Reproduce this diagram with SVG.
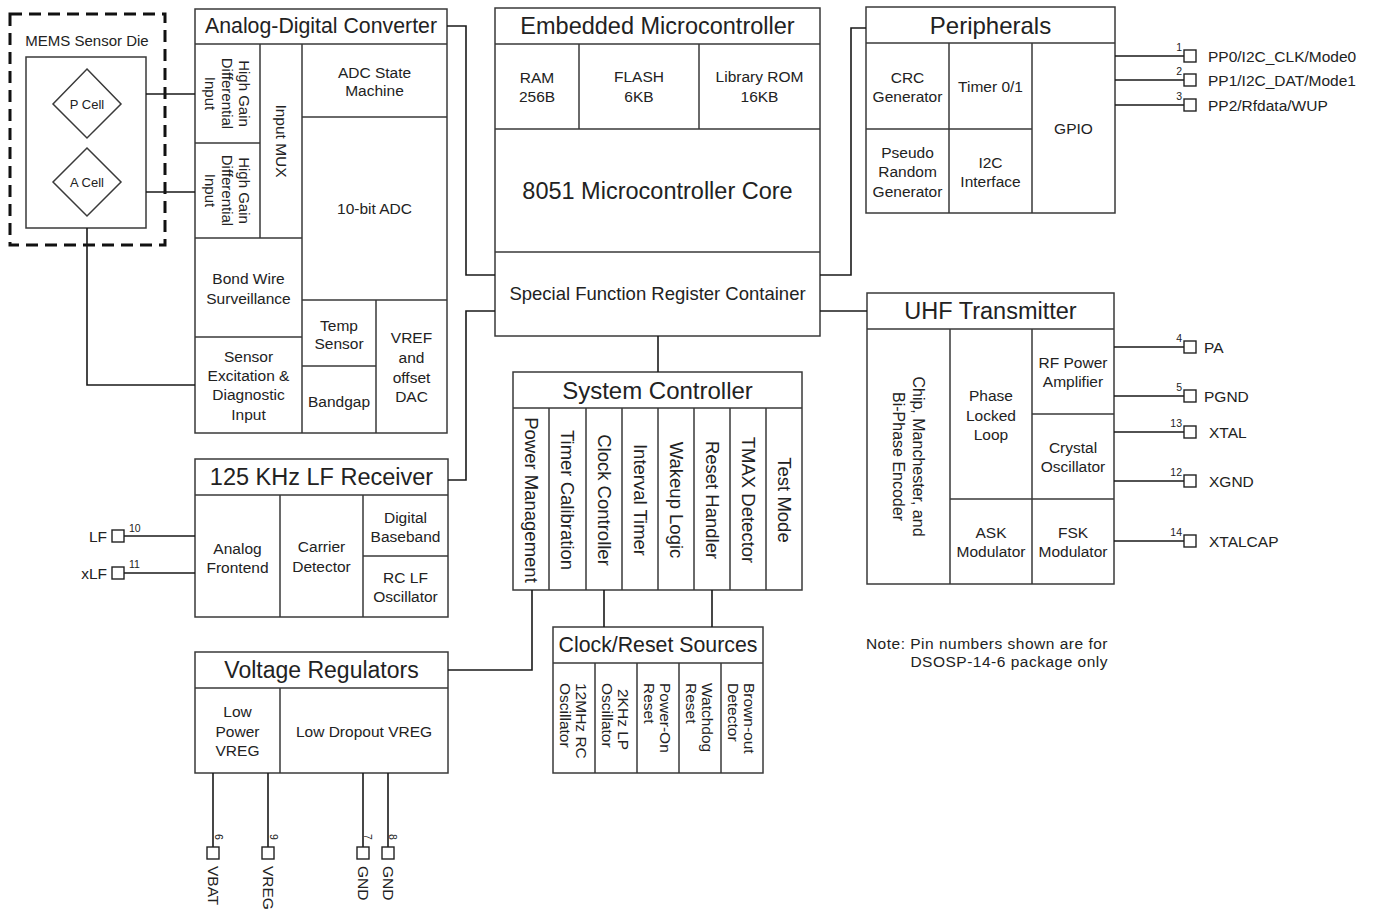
<svg xmlns="http://www.w3.org/2000/svg" width="1384" height="915" viewBox="0 0 1384 915">
<style>
text{font-family:"Liberation Sans",Arial,sans-serif;fill:#222}
.b{fill:#fff;stroke:#3a3a3a;stroke-width:1.5}
.l{fill:none;stroke:#3a3a3a;stroke-width:1.5}
.c{fill:none;stroke:#1a1a1a;stroke-width:1.6}
.h{font-size:23.5px;text-anchor:middle;dominant-baseline:central}
.t{font-size:15.5px;text-anchor:middle;dominant-baseline:central}
.s{font-size:15.5px;text-anchor:start;dominant-baseline:central}
.v{font-size:18.5px;text-anchor:middle;dominant-baseline:central}
.p{font-size:15.5px;dominant-baseline:central}
.n{font-size:10.5px}
.nv{font-size:10.5px;text-anchor:middle;dominant-baseline:central}
.pin{fill:#fff;stroke:#222;stroke-width:1.4}
</style>
<rect width="1384" height="915" fill="#fff"/>

<g id="mems">
<rect x="10" y="14" width="155" height="231" fill="none" stroke="#111" stroke-width="3" stroke-dasharray="12 7"/>
<text x="87" y="40" class="t" style="font-size:15px">MEMS Sensor Die</text>
<rect x="26" y="57" width="120" height="171" class="b"/>
<polygon points="87,69 121,104 87,138 53,104" class="b"/>
<text x="87" y="104" class="t" style="font-size:13px">P Cell</text>
<polygon points="87,148 121,182 87,216 53,182" class="b"/>
<text x="87" y="182" class="t" style="font-size:13px">A Cell</text>
</g>

<g id="adc">
<rect x="195" y="9" width="252" height="424" class="b"/>
<path class="l" d="M195 44H447M260 44V238M195 143H260M302 44V433M195 238H302M302 117H447M302 300H447M195 337H302M376 300V433M302 366H376"/>
<text x="321" y="26" class="h" style="font-size:21.3px">Analog-Digital Converter</text>
<g transform="translate(227.5,93.5) rotate(90)"><text class="t" style="font-size:15px"><tspan x="0" y="-17">High Gain</tspan><tspan x="0" y="0">Differential</tspan><tspan x="0" y="17">Input</tspan></text></g>
<g transform="translate(227.5,190.5) rotate(90)"><text class="t" style="font-size:15px"><tspan x="0" y="-17">High Gain</tspan><tspan x="0" y="0">Differential</tspan><tspan x="0" y="17">Input</tspan></text></g>
<g transform="translate(281,141) rotate(90)"><text class="t" x="0" y="0">Input MUX</text></g>
<text class="t"><tspan x="374.5" y="72">ADC State</tspan><tspan x="374.5" y="90">Machine</tspan></text>
<text class="t" x="374.5" y="208">10-bit ADC</text>
<text class="t"><tspan x="248.5" y="278">Bond Wire</tspan><tspan x="248.5" y="298">Surveillance</tspan></text>
<text class="t"><tspan x="248.5" y="356">Sensor</tspan><tspan x="248.5" y="375">Excitation &amp;</tspan><tspan x="248.5" y="394">Diagnostic</tspan><tspan x="248.5" y="414">Input</tspan></text>
<text class="t"><tspan x="339" y="325">Temp</tspan><tspan x="339" y="343">Sensor</tspan></text>
<text class="t" x="339" y="401">Bandgap</text>
<text class="t"><tspan x="411.5" y="337">VREF</tspan><tspan x="411.5" y="357">and</tspan><tspan x="411.5" y="377">offset</tspan><tspan x="411.5" y="396">DAC</tspan></text>
</g>

<g id="mcu">
<rect x="495" y="8" width="325" height="328" class="b"/>
<path class="l" d="M495 44H820M495 129H820M495 252H820M579 44V129M699 44V129"/>
<text x="657.5" y="26" class="h">Embedded Microcontroller</text>
<text class="t"><tspan x="537" y="77">RAM</tspan><tspan x="537" y="96">256B</tspan></text>
<text class="t"><tspan x="639" y="76">FLASH</tspan><tspan x="639" y="96">6KB</tspan></text>
<text class="t"><tspan x="759.5" y="76">Library ROM</tspan><tspan x="759.5" y="96">16KB</tspan></text>
<text x="657.5" y="191" class="h">8051 Microcontroller Core</text>
<text x="657.5" y="293" class="t" style="font-size:18.5px">Special Function Register Container</text>
</g>

<g id="peripherals">
<rect x="866" y="7" width="249" height="206" class="b"/>
<path class="l" d="M866 43H1115M949 43V213M1032 43V213M866 129H1032"/>
<text x="990.5" y="25" class="h" style="font-size:24px">Peripherals</text>
<text class="t"><tspan x="907.5" y="77">CRC</tspan><tspan x="907.5" y="96">Generator</tspan></text>
<text class="t" x="990.5" y="86">Timer 0/1</text>
<text class="t"><tspan x="907.5" y="152">Pseudo</tspan><tspan x="907.5" y="171">Random</tspan><tspan x="907.5" y="191">Generator</tspan></text>
<text class="t"><tspan x="990.5" y="162">I2C</tspan><tspan x="990.5" y="181">Interface</tspan></text>
<text class="t" x="1073.5" y="128">GPIO</text>
</g>

<g id="uhf">
<rect x="867" y="293" width="247" height="291" class="b"/>
<path class="l" d="M867 329H1114M950 329V584M1032 329V584M950 499H1114M1032 414H1114"/>
<text x="990.5" y="311" class="h">UHF Transmitter</text>
<g transform="translate(908.5,456.5) rotate(90)"><text class="t" style="font-size:16px"><tspan x="0" y="-10">Chip, Manchester, and</tspan><tspan x="0" y="10">Bi-Phase Encoder</tspan></text></g>
<text class="t"><tspan x="991" y="395">Phase</tspan><tspan x="991" y="415">Locked</tspan><tspan x="991" y="434">Loop</tspan></text>
<text class="t"><tspan x="1073" y="362">RF Power</tspan><tspan x="1073" y="381">Amplifier</tspan></text>
<text class="t"><tspan x="1073" y="447">Crystal</tspan><tspan x="1073" y="466">Oscillator</tspan></text>
<text class="t"><tspan x="991" y="532">ASK</tspan><tspan x="991" y="551">Modulator</tspan></text>
<text class="t"><tspan x="1073" y="532">FSK</tspan><tspan x="1073" y="551">Modulator</tspan></text>
</g>

<g id="sysctrl">
<rect x="513" y="372" width="289" height="218" class="b"/>
<path class="l" d="M513 408H802M549 408V590M586 408V590M622 408V590M658 408V590M694 408V590M730 408V590M766 408V590"/>
<text x="657.5" y="390" class="h" style="font-size:24px">System Controller</text>
<g transform="translate(531,500) rotate(90)"><text class="v">Power Management</text></g>
<g transform="translate(567.5,500) rotate(90)"><text class="v">Timer Calibration</text></g>
<g transform="translate(604,500) rotate(90)"><text class="v">Clock Controller</text></g>
<g transform="translate(640,500) rotate(90)"><text class="v">Interval Timer</text></g>
<g transform="translate(676,500) rotate(90)"><text class="v">Wakeup Logic</text></g>
<g transform="translate(712,500) rotate(90)"><text class="v">Reset Handler</text></g>
<g transform="translate(748,500) rotate(90)"><text class="v">TMAX Detector</text></g>
<g transform="translate(784,500) rotate(90)"><text class="v">Test Mode</text></g>
</g>

<g id="clkrst">
<rect x="553" y="627" width="210" height="146" class="b"/>
<path class="l" d="M553 663H763M595 663V773M637 663V773M679 663V773M721 663V773"/>
<text x="658" y="645" class="h" style="font-size:21.3px">Clock/Reset Sources</text>
<g transform="translate(574,683) rotate(90)"><text class="s"><tspan x="0" y="-8">12MHz RC</tspan><tspan x="0" y="8">Oscillator</tspan></text></g>
<g transform="translate(616,683) rotate(90)"><text class="s"><tspan x="6" y="-8">2KHz LP</tspan><tspan x="0" y="8">Oscillator</tspan></text></g>
<g transform="translate(658,683) rotate(90)"><text class="s"><tspan x="0" y="-8">Power-On</tspan><tspan x="0" y="8">Reset</tspan></text></g>
<g transform="translate(700,683) rotate(90)"><text class="s"><tspan x="0" y="-8">Watchdog</tspan><tspan x="0" y="8">Reset</tspan></text></g>
<g transform="translate(742,683) rotate(90)"><text class="s"><tspan x="0" y="-8">Brown-out</tspan><tspan x="0" y="8">Detector</tspan></text></g>
</g>

<g id="lfrx">
<rect x="195" y="459" width="253" height="158" class="b"/>
<path class="l" d="M195 495H448M280 495V617M363 495V617M363 556H448"/>
<text x="321.5" y="477" class="h">125 KHz LF Receiver</text>
<text class="t"><tspan x="237.5" y="548">Analog</tspan><tspan x="237.5" y="567">Frontend</tspan></text>
<text class="t"><tspan x="321.5" y="546">Carrier</tspan><tspan x="321.5" y="566">Detector</tspan></text>
<text class="t"><tspan x="405.5" y="517">Digital</tspan><tspan x="405.5" y="536">Baseband</tspan></text>
<text class="t"><tspan x="405.5" y="577">RC LF</tspan><tspan x="405.5" y="596">Oscillator</tspan></text>
</g>

<g id="vreg">
<rect x="195" y="652" width="253" height="121" class="b"/>
<path class="l" d="M195 688H448M280 688V773"/>
<text x="321.5" y="670" class="h" style="font-size:23px">Voltage Regulators</text>
<text class="t"><tspan x="237.5" y="711">Low</tspan><tspan x="237.5" y="731">Power</tspan><tspan x="237.5" y="750">VREG</tspan></text>
<text class="t" x="364" y="731">Low Dropout VREG</text>
</g>

<g id="note">
<text x="1108" y="643" style="font-size:15.5px;text-anchor:end;dominant-baseline:central;letter-spacing:0.5px">Note: Pin numbers shown are for</text>
<text x="1108" y="661" style="font-size:15.5px;text-anchor:end;dominant-baseline:central;letter-spacing:0.5px">DSOSP-14-6 package only</text>
</g>

<g id="connectors">
<path class="c" d="M146 94H195M146 192H195M87 228V385H195"/>
<path class="c" d="M447 26H466V275H495"/>
<path class="c" d="M448 480H466V311H495"/>
<path class="c" d="M820 275H851V28H866"/>
<path class="c" d="M820 311H867"/>
<path class="c" d="M658 336V372"/>
<path class="c" d="M532 590V670H448"/>
<path class="c" d="M604 590V627M712 590V627"/>
</g>

<g id="pins">
<path class="c" d="M1115 56H1184M1115 80H1184M1115 105H1184M1114 347H1184M1114 396H1184M1114 432H1184M1114 481H1184M1114 541H1184M124 536H195M124 573H195M213 773V847M268 773V847M363 773V847M388 773V847"/>
<rect x="1184" y="50" width="12" height="12" class="pin"/>
<rect x="1184" y="74" width="12" height="12" class="pin"/>
<rect x="1184" y="99" width="12" height="12" class="pin"/>
<rect x="1184" y="341" width="12" height="12" class="pin"/>
<rect x="1184" y="390" width="12" height="12" class="pin"/>
<rect x="1184" y="426" width="12" height="12" class="pin"/>
<rect x="1184" y="475" width="12" height="12" class="pin"/>
<rect x="1184" y="535" width="12" height="12" class="pin"/>
<rect x="112" y="530" width="12" height="12" class="pin"/>
<rect x="112" y="567" width="12" height="12" class="pin"/>
<rect x="207" y="847" width="12" height="12" class="pin"/>
<rect x="262" y="847" width="12" height="12" class="pin"/>
<rect x="357" y="847" width="12" height="12" class="pin"/>
<rect x="382" y="847" width="12" height="12" class="pin"/>

<text class="n" x="1182" y="51" text-anchor="end">1</text>
<text class="n" x="1182" y="75" text-anchor="end">2</text>
<text class="n" x="1182" y="100" text-anchor="end">3</text>
<text class="n" x="1182" y="342" text-anchor="end">4</text>
<text class="n" x="1182" y="391" text-anchor="end">5</text>
<text class="n" x="1182" y="427" text-anchor="end">13</text>
<text class="n" x="1182" y="476" text-anchor="end">12</text>
<text class="n" x="1182" y="536" text-anchor="end">14</text>
<text class="n" x="129" y="532">10</text>
<text class="n" x="129" y="568">11</text>

<text class="p" x="1208" y="56">PP0/I2C_CLK/Mode0</text>
<text class="p" x="1208" y="80">PP1/I2C_DAT/Mode1</text>
<text class="p" x="1208" y="105">PP2/Rfdata/WUP</text>
<text class="p" x="1204" y="347">PA</text>
<text class="p" x="1204" y="396">PGND</text>
<text class="p" x="1209" y="432">XTAL</text>
<text class="p" x="1209" y="481">XGND</text>
<text class="p" x="1209" y="541">XTALCAP</text>
<text class="p" x="107" y="536" text-anchor="end">LF</text>
<text class="p" x="107" y="573" text-anchor="end">xLF</text>

<g transform="translate(219,837) rotate(90)"><text class="nv">6</text></g>
<g transform="translate(274,837) rotate(90)"><text class="nv">9</text></g>
<g transform="translate(368,837) rotate(90)"><text class="nv">7</text></g>
<g transform="translate(393,837) rotate(90)"><text class="nv">8</text></g>
<g transform="translate(213,866) rotate(90)"><text class="p">VBAT</text></g>
<g transform="translate(268,866) rotate(90)"><text class="p">VREG</text></g>
<g transform="translate(363,866) rotate(90)"><text class="p">GND</text></g>
<g transform="translate(388,866) rotate(90)"><text class="p">GND</text></g>
</g>
</svg>
